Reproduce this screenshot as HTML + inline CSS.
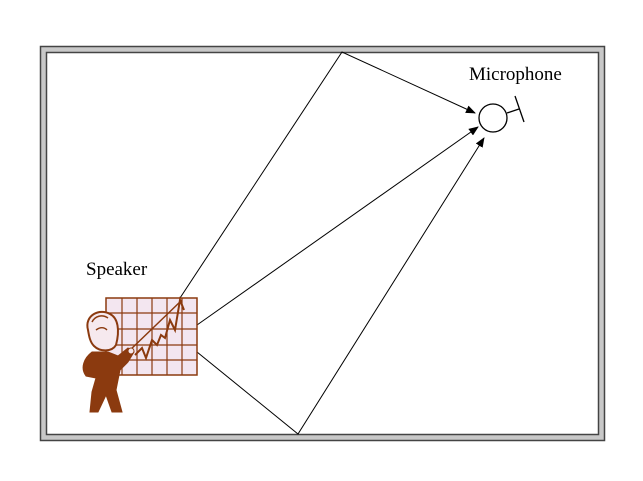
<!DOCTYPE html>
<html><head><meta charset="utf-8"><style>
html,body{margin:0;padding:0;background:#fff;}
svg{display:block;}
text{font-family:"Liberation Serif",serif;font-size:19px;fill:#000;}
</style></head><body>
<svg width="643" height="481" viewBox="0 0 643 481">
<defs>
<marker id="arr" markerWidth="10" markerHeight="8" refX="9" refY="4" orient="auto" markerUnits="userSpaceOnUse">
<path d="M0,0 L10,4 L0,8 Z" fill="#000"/>
</marker>
</defs>
<g>
<rect x="40.5" y="46.5" width="564" height="394" fill="#c8c8c8" stroke="#444" stroke-width="1.5"/>
<rect x="46.5" y="52.5" width="552" height="382" fill="#fff" stroke="#444" stroke-width="1.5"/>
</g>
<g stroke="#000" stroke-width="1" fill="none">
<polyline points="180,298 342,52 475,113" marker-end="url(#arr)"/>
<line x1="197" y1="325" x2="478" y2="127" marker-end="url(#arr)"/>
<polyline points="197,352 298,434 484,138" marker-end="url(#arr)"/>
</g>
<g stroke="#000" stroke-width="1.3" fill="none">
<circle cx="493" cy="118" r="14"/>
<line x1="507" y1="113" x2="519" y2="109"/>
<line x1="515" y1="96" x2="524" y2="122"/>
</g>
<text x="469" y="80">Microphone</text>
<text x="86" y="275">Speaker</text>
<g>
<rect x="106" y="298" width="91" height="77" fill="#f3e6f0" stroke="#8b3a0f" stroke-width="1.5"/>
<g stroke="#8b3a0f" stroke-width="1.2">
<line x1="122" y1="298" x2="122" y2="375"/><line x1="137" y1="298" x2="137" y2="375"/>
<line x1="152" y1="298" x2="152" y2="375"/><line x1="167" y1="298" x2="167" y2="375"/>
<line x1="182" y1="298" x2="182" y2="375"/>
<line x1="106" y1="313" x2="197" y2="313"/><line x1="106" y1="329" x2="197" y2="329"/>
<line x1="106" y1="345" x2="197" y2="345"/><line x1="106" y1="360" x2="197" y2="360"/>
</g>
<polyline points="135,355 142,348 146,358 152,340 157,345 161,335 165,338 170,320 175,330 180,300 184,310" fill="none" stroke="#8b3a0f" stroke-width="2"/>
<line x1="128" y1="352" x2="182" y2="300" stroke="#8b3a0f" stroke-width="1.5"/>
</g>
<g fill="#8b3a0f" stroke="#8b3a0f">
<path d="M88,330 C84,315 100,308 110,314 C118,318 120,330 116,345 C112,352 100,352 94,346 C90,342 89,336 88,330 Z" fill="#f6e9ee" stroke-width="2"/>
<path d="M92,322 C95,316 102,314 108,318 M96,330 C100,327 104,327 107,330" fill="none" stroke-width="1.5"/>
<path d="M92,352 C84,358 80,368 86,376 L96,378 L92,392 L90,412 L98,412 L106,395 L112,412 L122,412 L116,390 L120,370 L128,362 L134,352 L128,348 L118,356 L108,352 Z"/>
<circle cx="131" cy="351" r="3" fill="#f6e9ee"/>
</g>
</svg>
</body></html>
